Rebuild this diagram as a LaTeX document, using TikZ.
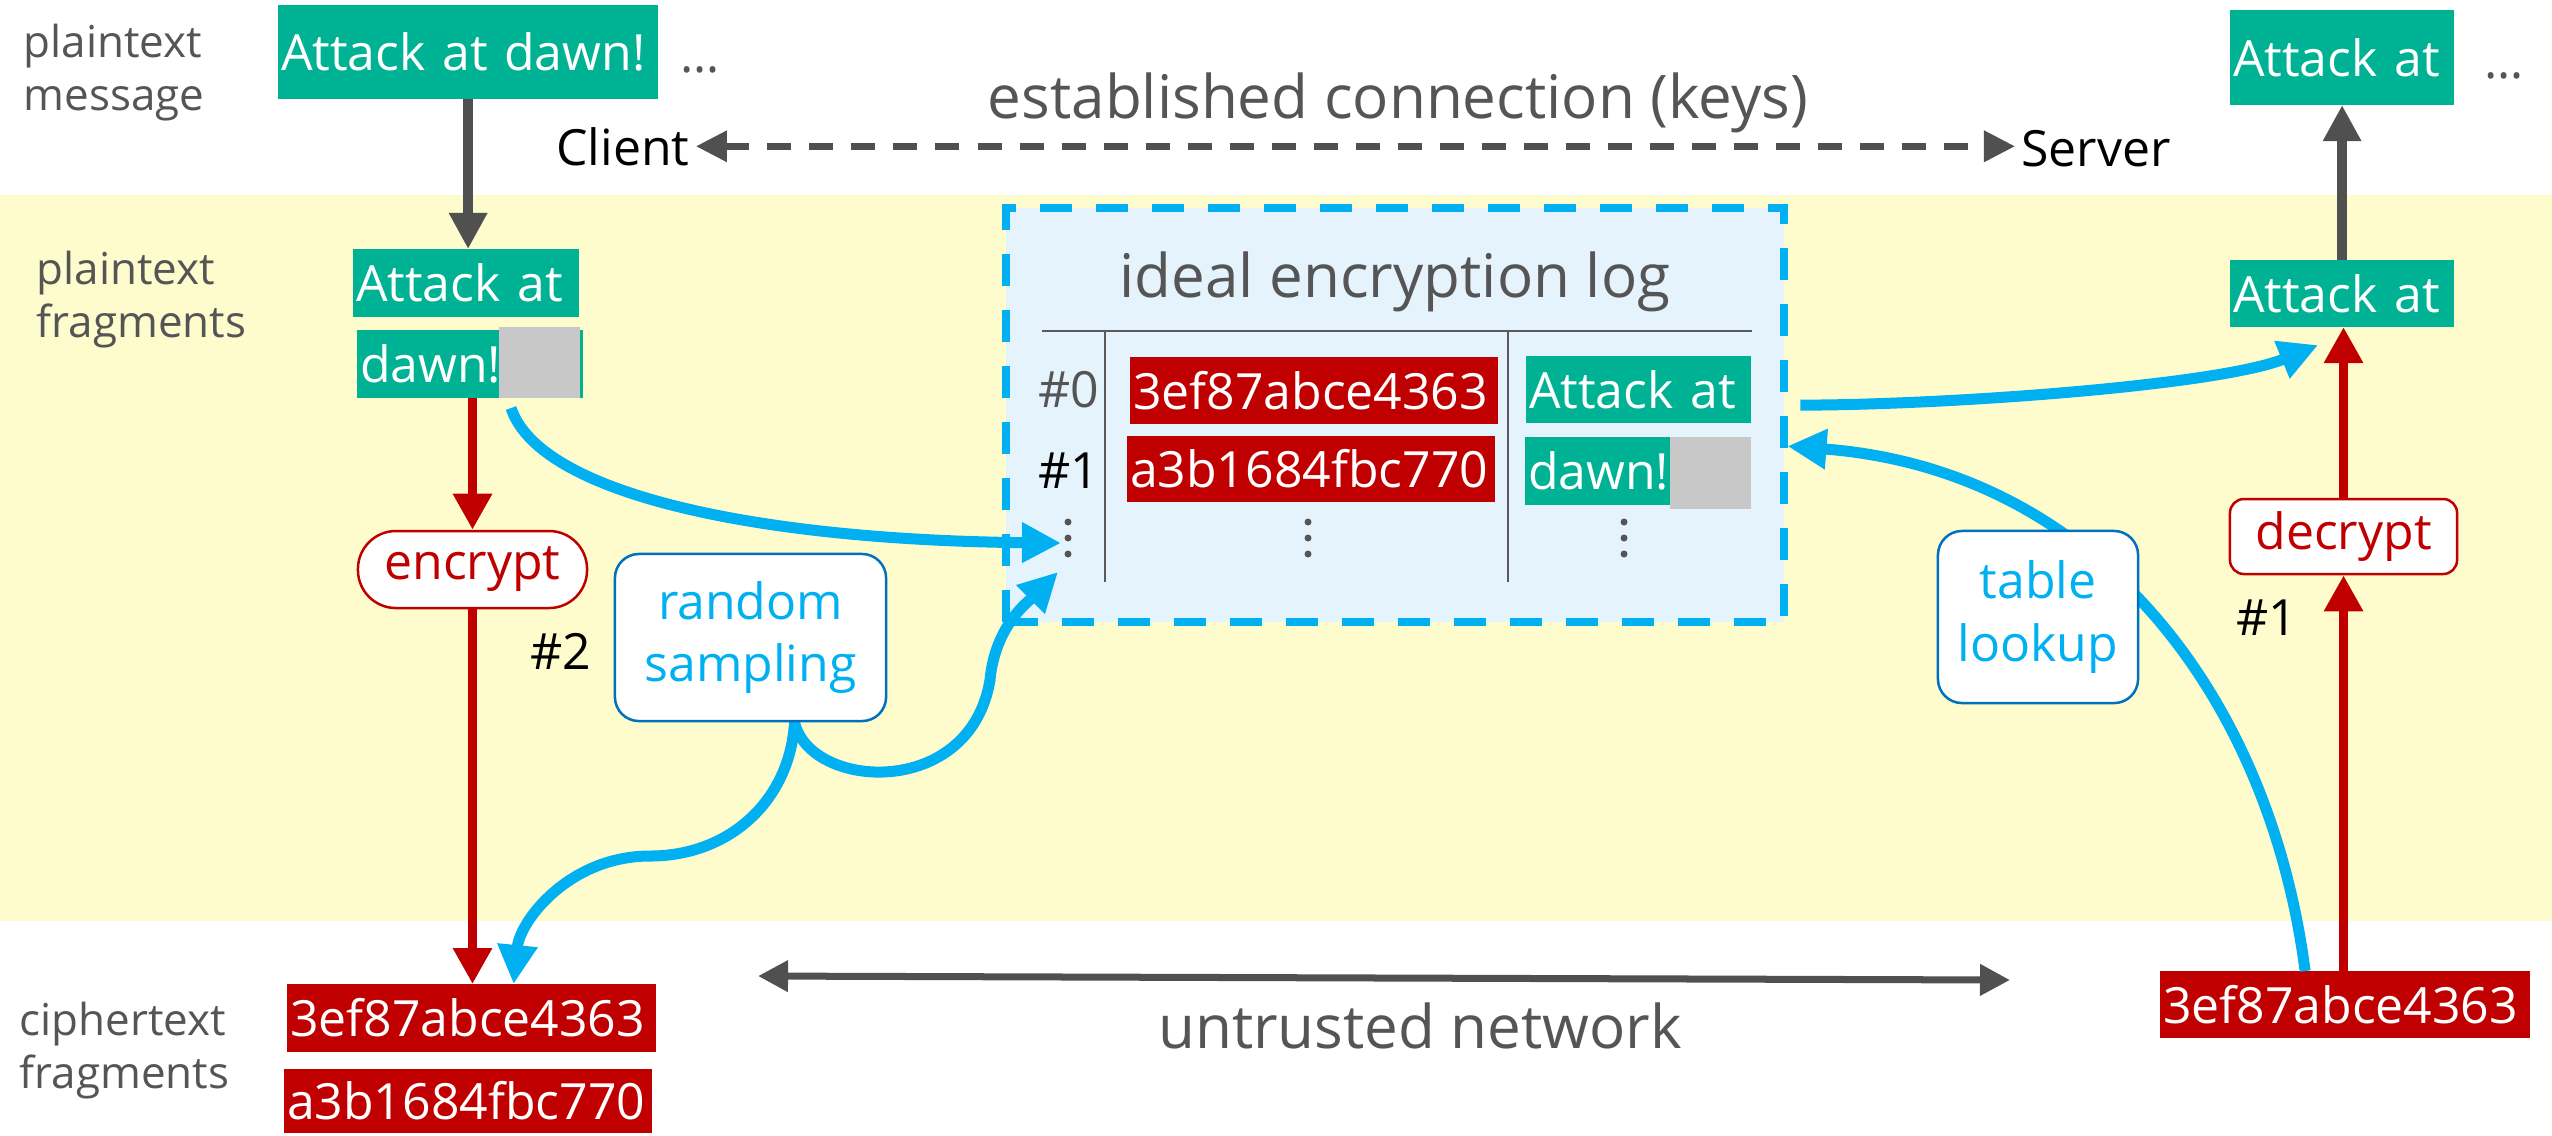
\documentclass[tikz,border=0pt]{standalone}
\usepackage{fontspec}
\setmainfont{Open Sans}
\usetikzlibrary{arrows.meta}
\pgfdeclarelayer{front}
\pgfsetlayers{main,front}

\definecolor{band}{RGB}{254,251,205}
\definecolor{frag}{RGB}{0,178,148}
\definecolor{ciph}{RGB}{192,0,0}
\definecolor{flow}{RGB}{0,176,240}
\definecolor{boxline}{RGB}{0,112,192}
\definecolor{logfill}{RGB}{229,244,252}
\definecolor{ink}{RGB}{85,85,85}
\definecolor{arrowgray}{RGB}{80,80,80}
\definecolor{rulegray}{RGB}{90,90,90}
\definecolor{pad}{RGB}{200,200,200}

\newcommand\cellfont{\fontsize{14.2pt}{17pt}\selectfont}
\newcommand\sidefont{\fontsize{12.5pt}{14.8pt}\selectfont}
\newcommand\headfont{\fontsize{17.1pt}{20pt}\selectfont}
\newcommand\stepfont{\fontsize{14.2pt}{17.9pt}\selectfont}

\tikzset{
  cell/.style={anchor=north west, inner xsep=0.03cm, inner ysep=0pt, outer sep=0pt,
    text=white, font=\cellfont, align=left},
  plainfrag/.style={cell, fill=frag},
  cipherfrag/.style={cell, fill=ciph},
  padblock/.style={anchor=north west, fill=pad, inner sep=0pt, outer sep=0pt},
  sidelabel/.style={anchor=base west, inner sep=0pt, font=\sidefont, text=ink, align=left},
  heading/.style={anchor=base, inner sep=0pt, font=\headfont, text=ink},
  plain/.style={anchor=base, font=\cellfont},
  opbox/.style={draw=ciph, fill=white, text=ciph, line width=0.025cm, inner sep=0pt, font=\cellfont},
  stepbox/.style={draw=boxline, fill=white, text=flow, line width=0.025cm,
    rounded corners=0.24cm, inner sep=0pt, align=center, font=\stepfont},
  logframe/.style={draw=flow, fill=logfill, line width=0.08cm,
    dash pattern=on 0.32cm off 0.24cm, outer sep=0pt, inner sep=0pt, anchor=north west},
  rule/.style={draw=rulegray, line width=0.02cm},
  grayflow/.style={draw=arrowgray, line width=0.1cm, -{Triangle[length=0.36cm,width=0.36cm]}},
  redflow/.style={draw=ciph, line width=0.09cm, -{Triangle[length=0.36cm,width=0.37cm]}},
  blueflow/.style={draw=flow, line width=0.11cm, -{Triangle[length=0.39cm,width=0.38cm]}},
  keylink/.style={draw=arrowgray, line width=0.065cm, dash pattern=on 0.24cm off 0.18cm,
    {Triangle[length=0.31cm,width=0.3cm]}-{Triangle[length=0.31cm,width=0.3cm]}},
  netlink/.style={draw=arrowgray, line width=0.07cm,
    {Triangle[length=0.3cm,width=0.3cm]}-{Triangle[length=0.3cm,width=0.3cm]}},
}

\begin{document}
\begin{tikzpicture}[x=0.01cm, y=-0.01cm]
\useasboundingbox (0,0) rectangle (2552,1135);
\fill[white] (0,0) rectangle (2552,1135);
\fill[band] (0,195) rectangle (2552,921);

% row labels (anchored at the baseline of their second line)
\node[sidelabel] (lblmsg) at (23,110) {plaintext\\message};
\node[sidelabel] (lblfrag) at (36,337) {plaintext\\fragments};
\node[sidelabel] (lblct) at (19,1088) {ciphertext\\fragments};

% client side
\node[plainfrag, text width=3.74cm, minimum height=0.94cm] (msgL) at (278,5) {Attack at dawn!};
\node[plain, text=ink] (moreL) at (700,72) {…};
\node[plainfrag, text width=2.20cm, minimum height=0.68cm] (fragA) at (353,249) {Attack at};
\node[plainfrag, text width=2.20cm, minimum height=0.68cm] (fragD) at (357,330) {dawn!};
\node[padblock, minimum width=0.81cm, minimum height=0.71cm] (padL) at (499,327) {};
\node[cipherfrag, text width=3.63cm, minimum height=0.68cm] (ct0) at (287,984) {3ef87abce4363};
\node[cipherfrag, text width=3.62cm, minimum height=0.64cm] (ct1) at (284,1069) {a3b1684fbc770};
\node[opbox, rounded corners=0.38cm, minimum width=2.29cm, minimum height=0.77cm] (enc) at (472.5,569.5) {encrypt};
\node[plain, anchor=center] (seq2) at (561,651) {\#2};

% server side
\node[plainfrag, text width=2.18cm, minimum height=0.95cm] (msgR) at (2230,10) {Attack at};
\node[plain, text=ink] (moreR) at (2504,78) {…};
\node[plainfrag, text width=2.18cm, minimum height=0.67cm] (fragR) at (2230,260) {Attack at};
\node[opbox, rounded corners=0.14cm, minimum width=2.27cm, minimum height=0.75cm] (dec) at (2343.5,536.5) {decrypt};
\node[plain, anchor=center] (seq1) at (2267,618) {\#1};
\node[cipherfrag, text width=3.64cm, minimum height=0.67cm] (ctR) at (2160,971) {3ef87abce4363};

% established connection
\node[plain] (client) at (623,165) {Client};
\node[plain] (server) at (2096,166) {Server};
\node[heading] (conn) at (1398,118) {established connection (keys)};
\draw[keylink, shorten <=-0.06cm, shorten >=-0.06cm] (client.east) -- (client.east -| server.west);

% ideal encryption log
\node[logframe, minimum width=7.78cm, minimum height=4.14cm] (log) at (1006,208) {};
\node[heading] (logtitle) at (1395,297) {ideal encryption log};
\draw[rule] (1042,331) -- (1752,331);
\draw[rule] (1105,331) -- (1105,582);
\draw[rule] (1508,331) -- (1508,582);
\node[plain, text=ink] (idx0) at (1069,407) {\#0};
\node[plain] (idx1) at (1069,488) {\#1};
\node[cipherfrag, text width=3.62cm, minimum height=0.67cm] (row0c) at (1130,357) {3ef87abce4363};
\node[cipherfrag, text width=3.62cm, minimum height=0.66cm] (row1c) at (1127,436) {a3b1684fbc770};
\node[plainfrag, text width=2.19cm, minimum height=0.67cm] (row0p) at (1526,356) {Attack at};
\node[plainfrag, text width=2.20cm, minimum height=0.68cm] (row1p) at (1525,437) {dawn!};
\node[padblock, minimum width=0.81cm, minimum height=0.72cm] (row1pad) at (1670,437) {};
\foreach \x in {1068,1308,1624}
  \foreach \y in {522,538,554}
    \fill[ink] (\x,\y) circle (0.035cm);
\coordinate (slotin) at (1061,543);
\coordinate (slotbelow) at (1058,572);

% untrusted network
\coordinate (netL) at (758,976);
\coordinate (netR) at (2010,980);
\draw[netlink] (netL) -- (netR);
\node[heading] (net) at (1420,1048) {untrusted network};

% encryption and decryption flow
\draw[grayflow] (msgL.south) -- (msgL.south |- fragA.north);
\draw[grayflow] (fragR.north) -- (fragR.north |- msgR.south);
\draw[redflow] (enc.north |- fragD.south) -- (enc.north);
\draw[redflow] (enc.south) -- (enc.south |- ct0.north);
\draw[redflow] (dec.south |- ctR.north) -- (dec.south);
\draw[redflow] (dec.north) -- (dec.north |- fragR.south);

% ideal functionality boxes (drawn above the curves)
\begin{pgfonlayer}{front}
\node[stepbox, minimum width=2.71cm, minimum height=1.67cm] (rs) at (750.5,637.5) {random\\sampling};
\node[stepbox, minimum width=2.00cm, minimum height=1.72cm] (tl) at (2038,617) {table\\lookup};
\end{pgfonlayer}

% log interactions
\draw[blueflow] ([xshift=0.12cm,yshift=-0.10cm]padL.south west)
  .. controls (540,495) and (760,540) .. (slotin);
\draw[blueflow] ([xshift=0.44cm]rs.south)
  .. controls (790,800) and (730,856) .. (650,856)
  .. controls (570,856) and (520,920) .. ([xshift=0.42cm]ct0.north);
\draw[blueflow] ([xshift=0.44cm]rs.south)
  .. controls (810,790) and (970,800) .. (990,680)
  .. controls (995,625) and (1030,600) .. (slotbelow);
\draw[blueflow] ([xshift=0.16cm,yshift=0.10cm]log.east)
  .. controls (1950,405) and (2220,385) .. ([xshift=0.88cm,yshift=-0.18cm]fragR.south west);
\draw[blueflow] ([xshift=-0.40cm]ctR.north)
  .. controls (2270,700) and (2100,470) .. ([xshift=0.03cm,yshift=-0.31cm]log.east);
\end{tikzpicture}
\end{document}
